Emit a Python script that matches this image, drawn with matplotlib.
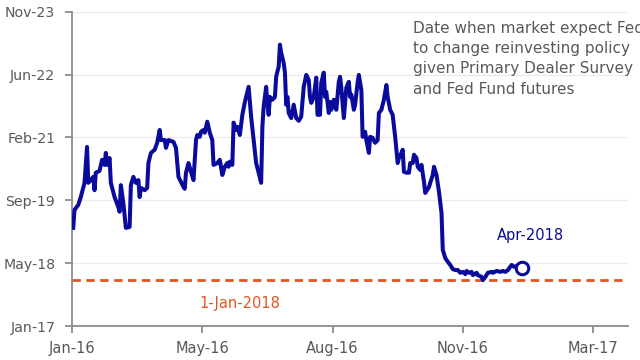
import numpy as np
import pandas as pd
import matplotlib
matplotlib.use("Agg")
import matplotlib.pyplot as plt
import matplotlib.dates as mdates

# observation day (days since 1-Jan-2016)
obs_day = [21, 22, 25, 27, 30, 32, 33, 35, 37, 38, 39, 42, 44, 46, 47, 48, 50, 51, 54, 57,
           58, 59, 61, 63, 66, 67, 69, 71, 73, 74, 75, 78, 80, 81, 83, 86, 88, 90, 91, 94,
           95, 97, 101, 103, 105, 107, 109, 110, 111, 113, 115, 117, 119, 120, 122, 123, 125, 126, 128, 130,
           132, 133, 136, 138, 140, 142, 144, 145, 146, 148, 149, 151, 152, 154, 156, 158, 160, 161, 163, 165,
           167, 169, 171, 172, 173, 175, 176, 177, 178, 180, 182, 183, 185, 186, 187, 189, 190, 191, 192, 193,
           195, 197, 199, 201, 203, 205, 207, 209, 210, 211, 213, 215, 216, 218, 219, 221, 222, 223, 225, 226,
           227, 229, 231, 233, 234, 235, 237, 239, 241, 242, 243, 245, 246, 248, 249, 251, 252, 254, 255, 257,
           258, 260, 262, 264, 265, 267, 269, 271, 272, 274, 276, 278, 280, 281, 283, 284, 285, 287, 289, 290,
           292, 293, 295, 296, 298, 299, 301, 302, 305, 306, 308, 309, 311, 313, 315, 316, 318, 320, 322, 324,
           326, 328, 330, 332, 334, 335, 337, 339, 340, 343, 344, 347, 348, 350, 352, 355, 356, 359, 362, 364,
           366, 368, 369, 371, 373, 375, 379]

# expected date of reinvestment change (decimal year)
exp_year = [2019.14, 2019.53, 2019.64, 2019.81, 2020.12, 2020.90, 2020.12, 2020.18, 2020.25, 2019.96,
            2020.34, 2020.38, 2020.62, 2020.51, 2020.77, 2020.51, 2020.66, 2020.12, 2019.81, 2019.59,
            2019.49, 2020.07, 2019.68, 2019.14, 2019.16, 2020.07, 2020.25, 2020.12, 2020.18, 2019.81,
            2020.01, 2019.96, 2020.01, 2020.55, 2020.77, 2020.84, 2020.99, 2021.27, 2021.05, 2021.05,
            2020.88, 2021.05, 2021.01, 2020.88, 2020.25, 2020.14, 2020.03, 2019.99, 2020.34, 2020.55,
            2020.36, 2020.18, 2021.05, 2021.16, 2021.12, 2021.23, 2021.27, 2021.21, 2021.45, 2021.21,
            2021.05, 2020.51, 2020.55, 2020.62, 2020.29, 2020.47, 2020.55, 2020.47, 2020.58, 2020.51,
            2021.43, 2021.27, 2021.34, 2021.16, 2021.60, 2021.88, 2022.10, 2022.21, 2021.56, 2021.05,
            2020.55, 2020.34, 2020.12, 2021.34, 2021.77, 2022.21, 2021.86, 2021.60, 2021.99, 2021.93,
            2021.99, 2022.43, 2022.65, 2023.13, 2022.95, 2022.73, 2022.52, 2021.82, 2021.99, 2021.64,
            2021.53, 2021.82, 2021.53, 2021.47, 2021.56, 2022.21, 2022.47, 2022.36, 2021.99, 2021.86,
            2021.99, 2022.41, 2021.60, 2021.60, 2022.30, 2022.52, 2021.99, 2022.10, 2021.64, 2021.88,
            2021.71, 2021.93, 2021.71, 2022.32, 2022.43, 2022.19, 2021.53, 2022.19, 2022.32, 2021.99,
            2022.04, 2021.71, 2021.82, 2022.30, 2022.47, 2022.14, 2021.12, 2021.23, 2021.05, 2020.77,
            2021.12, 2021.10, 2020.99, 2021.05, 2021.64, 2021.71, 2021.93, 2022.25, 2021.99, 2021.71,
            2021.60, 2021.12, 2020.55, 2020.66, 2020.77, 2020.84, 2020.36, 2020.34, 2020.34, 2020.55,
            2020.55, 2020.73, 2020.66, 2020.47, 2020.40, 2020.51, 2020.14, 2019.90, 2020.03, 2020.12,
            2020.29, 2020.47, 2020.29, 2019.92, 2019.46, 2018.66, 2018.48, 2018.40, 2018.33, 2018.24,
            2018.22, 2018.22, 2018.16, 2018.18, 2018.13, 2018.20, 2018.16, 2018.18, 2018.11, 2018.16,
            2018.11, 2018.07, 2018.00, 2018.07, 2018.16, 2018.18, 2018.16, 2018.20, 2018.18, 2018.20,
            2018.18, 2018.22, 2018.26, 2018.33, 2018.29, 2018.31, 2018.26]

ref_date = "2018-01-01"
ref_label = "1-Jan-2018"
last_label = "Apr-2018"
note = ("Date when market expect Fed\nto change reinvesting policy\n"
        "given Primary Dealer Survey\nand Fed Fund futures")


def dec_year_to_date(y):
    yr = int(np.floor(y))
    start = pd.Timestamp(yr, 1, 1)
    ndays = (pd.Timestamp(yr + 1, 1, 1) - start).days
    return start + pd.Timedelta(days=(y - yr) * ndays)


x = [pd.Timestamp("2016-01-01") + pd.Timedelta(days=d) for d in obs_day]
y = [dec_year_to_date(v) for v in exp_year]

navy = "#0A0A9C"
orange = "#E0561E"
grey = "#595959"

fig = plt.figure(figsize=(6.4, 3.6), dpi=100)
ax = fig.add_axes([0.1125, 0.0944, 0.869, 0.873])

x0 = pd.Timestamp("2016-01-21")
xticks = [x0 + pd.Timedelta(days=104 * k) for k in range(5)]
y0 = pd.Timestamp("2017-01-01")
yticks = [y0 + pd.Timedelta(days=500 * k) for k in range(6)]

ax.axhline(pd.Timestamp(ref_date), color=orange, lw=2, ls=(0, (3, 2)), zorder=2)
ax.plot(x, y, color=navy, lw=2.9, solid_joinstyle="round", zorder=3)
ax.plot(x[-1], y[-1], marker="o", ms=9, mfc="white", mec=navy, mew=2.2, zorder=4)

ax.set_xlim(x0, x0 + pd.Timedelta(days=444))
ax.set_ylim(yticks[0], yticks[-1])
ax.set_xticks(xticks)
ax.set_yticks(yticks)
ax.xaxis.set_major_formatter(mdates.DateFormatter("%b-%y"))
ax.yaxis.set_major_formatter(mdates.DateFormatter("%b-%y"))

ax.grid(axis="y", color="#ebebeb", lw=0.9)
ax.set_axisbelow(True)
for s in ["top", "right"]:
    ax.spines[s].set_visible(False)
for s in ["left", "bottom"]:
    ax.spines[s].set_color("#8c8c8c")
    ax.spines[s].set_linewidth(1.3)
ax.tick_params(colors="#8c8c8c", labelcolor=grey, labelsize=10.5, length=5, width=1.3)
ax.tick_params(axis="x", pad=6)
ax.tick_params(axis="y", pad=7, labelsize=10.2)

ax.text(pd.Timestamp("2016-06-03"), dec_year_to_date(2017.5), ref_label,
        color=orange, fontsize=10.5, ha="center", va="center")
ax.text(x[-1] + pd.Timedelta(days=7), dec_year_to_date(2018.97), last_label,
        color=navy, fontsize=10.5, ha="center", va="center")
ax.text(0.613, 0.972, note, transform=ax.transAxes, color=grey, fontsize=11,
        ha="left", va="top", linespacing=1.45)

fig.savefig("out.png", dpi=100)
